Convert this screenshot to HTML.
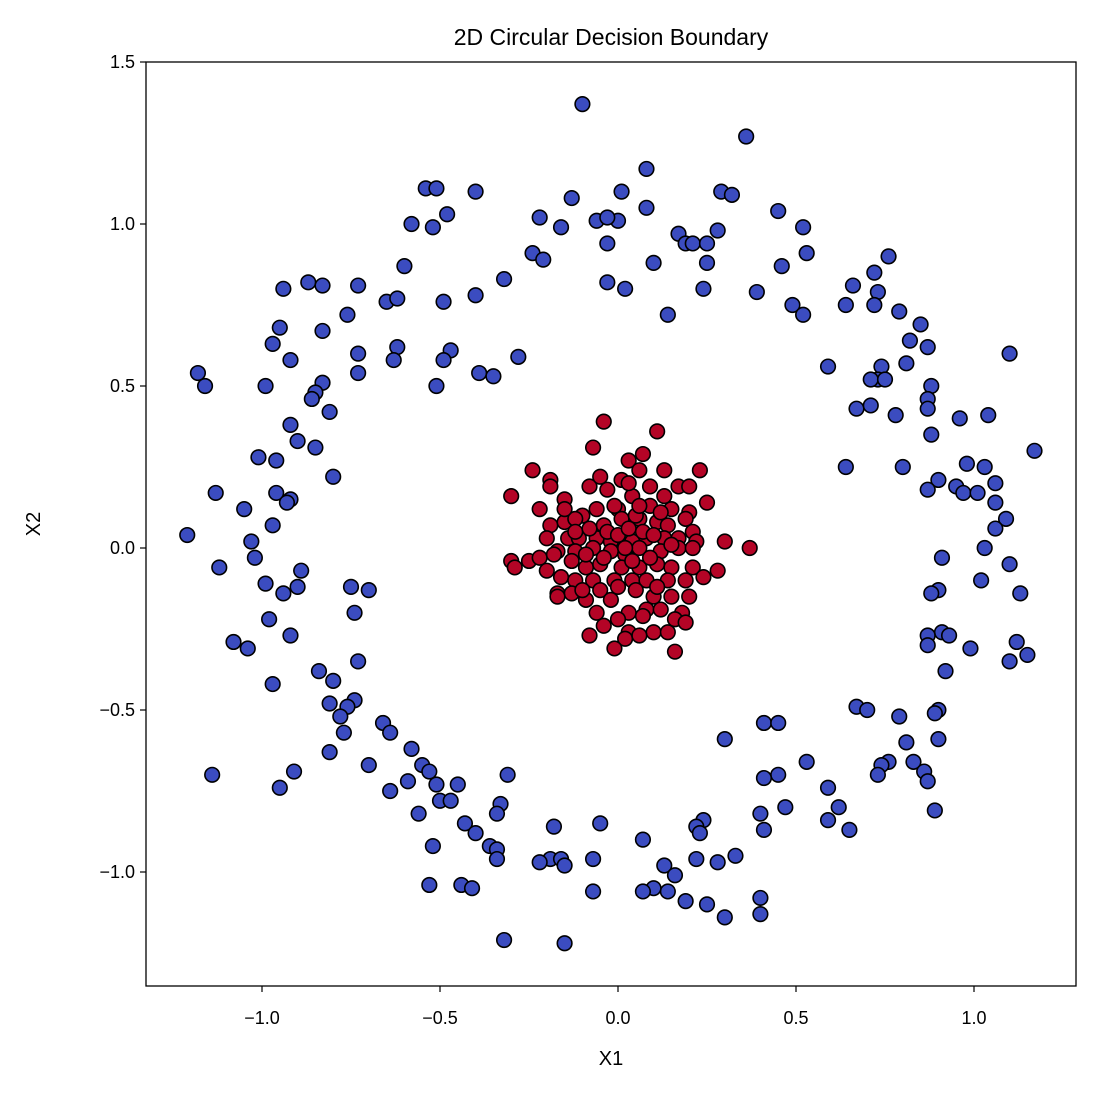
<!DOCTYPE html>
<html><head><meta charset="utf-8"><style>
body{margin:0;background:#fff;}
svg text{font-family:"Liberation Sans","DejaVu Sans",sans-serif;fill:#000;}
</style></head><body>
<svg id="chart" width="1095" height="1093" xmlns="http://www.w3.org/2000/svg">
<rect width="1095" height="1093" fill="#fff"/>
<text x="611" y="45" font-size="23" text-anchor="middle">2D Circular Decision Boundary</text>
<g id="marks"></g>
<rect x="146" y="62" width="930" height="924" fill="none" stroke="#000" stroke-width="1.3"/>
<g id="axes"></g>
<text x="611" y="1065" font-size="20" text-anchor="middle">X1</text>
<text x="40" y="524" font-size="20" text-anchor="middle" transform="rotate(-90 40 524)">X2</text>
</svg>
<script>
const xTicks=[-1.0,-0.5,0.0,0.5,1.0];
const yTicks=[-1.0,-0.5,0.0,0.5,1.0,1.5];
const blueX=[-0.10,0.36,0.08,-0.54,-0.51,-0.40,0.01,0.29,0.32,-0.13,0.08,0.45,-0.48,-0.22,-0.06,0.00,-0.03,-0.58,-0.52,-0.16,0.52,0.28,0.17,0.19,0.21,0.25,-0.03,-0.24,0.53,-0.21,0.25,0.10,0.46,-0.60,-0.32,0.76,0.72,0.66,0.73,-0.87,-0.83,-0.73,-0.94,-0.03,0.02,0.24,0.39,-0.40,-0.65,-0.62,-0.49,0.49,0.52,0.64,0.72,0.79,-0.76,0.14,-0.83,-0.95,0.85,0.82,0.87,-0.97,-0.62,-0.63,-0.73,-0.47,-0.49,-0.28,-0.92,1.10,0.59,0.81,0.74,0.73,0.71,0.75,-1.18,-1.16,-0.99,-0.39,-0.35,-0.73,-0.51,-0.83,-0.85,-0.86,0.88,0.87,0.87,0.67,0.71,0.78,1.04,0.96,-0.81,-0.92,0.88,-0.90,-0.85,-1.01,-0.96,1.17,0.98,0.64,0.80,1.03,0.90,1.06,-0.80,0.95,0.97,1.01,0.87,-1.13,-0.96,-0.92,-0.93,1.06,-1.05,1.09,-0.97,1.06,-1.21,-1.03,1.03,-1.02,0.91,1.10,-1.12,-0.89,1.02,1.13,-0.99,-0.75,-0.70,-0.90,-0.94,0.90,0.88,-0.74,-0.98,0.91,0.93,-0.92,-1.08,1.12,0.87,0.87,0.99,-1.04,1.15,1.10,-0.73,0.92,-0.84,-0.80,-0.97,-0.74,-0.81,-0.76,0.67,0.70,0.90,0.89,-0.78,0.79,-0.66,0.41,0.45,-0.77,-0.64,0.30,0.90,0.81,-0.81,-0.58,-0.70,0.53,-0.55,-0.53,0.83,0.76,0.74,0.73,0.86,-1.14,-0.91,-0.31,0.45,-0.95,0.41,-0.59,-0.51,-0.45,0.87,0.59,-0.64,-0.50,-0.47,-0.33,0.47,0.62,0.89,-0.56,-0.34,0.40,0.59,-0.43,-0.05,0.24,0.22,-0.40,-0.18,0.41,0.65,0.23,0.07,-0.36,-0.34,-0.52,-0.34,0.33,-0.19,-0.16,-0.15,-0.07,0.22,-0.22,0.28,0.13,0.16,-0.53,-0.44,0.10,0.07,0.14,-0.41,-0.07,0.40,0.19,0.25,0.40,0.30,-0.32,-0.15];
const blueY=[1.37,1.27,1.17,1.11,1.11,1.10,1.10,1.10,1.09,1.08,1.05,1.04,1.03,1.02,1.01,1.01,1.02,1.00,0.99,0.99,0.99,0.98,0.97,0.94,0.94,0.94,0.94,0.91,0.91,0.89,0.88,0.88,0.87,0.87,0.83,0.90,0.85,0.81,0.79,0.82,0.81,0.81,0.80,0.82,0.80,0.80,0.79,0.78,0.76,0.77,0.76,0.75,0.72,0.75,0.75,0.73,0.72,0.72,0.67,0.68,0.69,0.64,0.62,0.63,0.62,0.58,0.60,0.61,0.58,0.59,0.58,0.60,0.56,0.57,0.56,0.52,0.52,0.52,0.54,0.50,0.50,0.54,0.53,0.54,0.50,0.51,0.48,0.46,0.50,0.46,0.43,0.43,0.44,0.41,0.41,0.40,0.42,0.38,0.35,0.33,0.31,0.28,0.27,0.30,0.26,0.25,0.25,0.25,0.21,0.20,0.22,0.19,0.17,0.17,0.18,0.17,0.17,0.15,0.14,0.14,0.12,0.09,0.07,0.06,0.04,0.02,0.00,-0.03,-0.03,-0.05,-0.06,-0.07,-0.10,-0.14,-0.11,-0.12,-0.13,-0.12,-0.14,-0.13,-0.14,-0.20,-0.22,-0.26,-0.27,-0.27,-0.29,-0.29,-0.27,-0.30,-0.31,-0.31,-0.33,-0.35,-0.35,-0.38,-0.38,-0.41,-0.42,-0.47,-0.48,-0.49,-0.49,-0.50,-0.50,-0.51,-0.52,-0.52,-0.54,-0.54,-0.54,-0.57,-0.57,-0.59,-0.59,-0.60,-0.63,-0.62,-0.67,-0.66,-0.67,-0.69,-0.66,-0.66,-0.67,-0.70,-0.69,-0.70,-0.69,-0.70,-0.70,-0.74,-0.71,-0.72,-0.73,-0.73,-0.72,-0.74,-0.75,-0.78,-0.78,-0.79,-0.80,-0.80,-0.81,-0.82,-0.82,-0.82,-0.84,-0.85,-0.85,-0.84,-0.86,-0.88,-0.86,-0.87,-0.87,-0.88,-0.90,-0.92,-0.93,-0.92,-0.96,-0.95,-0.96,-0.96,-0.98,-0.96,-0.96,-0.97,-0.97,-0.98,-1.01,-1.04,-1.04,-1.05,-1.06,-1.06,-1.05,-1.06,-1.08,-1.09,-1.10,-1.13,-1.14,-1.21,-1.22];
const redX=[-0.04,0.11,-0.07,0.07,0.03,-0.24,0.13,0.23,0.06,-0.19,-0.19,0.01,0.09,-0.08,-0.03,0.17,0.20,-0.30,0.04,-0.15,0.25,-0.22,-0.10,-0.06,0.00,0.15,0.20,0.06,-0.19,-0.15,-0.12,-0.04,0.01,0.11,0.14,0.19,0.21,-0.20,-0.14,-0.11,-0.06,-0.02,0.04,0.08,0.13,0.17,0.30,0.37,0.22,-0.17,-0.12,-0.07,-0.02,0.02,0.06,0.12,0.17,0.21,-0.30,-0.29,-0.25,-0.22,-0.09,-0.05,0.01,0.06,0.11,0.15,0.21,-0.20,-0.16,0.28,0.24,-0.12,-0.07,-0.01,0.04,0.08,0.14,0.19,-0.17,-0.13,-0.05,0.05,0.10,0.15,-0.09,-0.17,-0.02,0.20,0.03,0.08,0.12,0.18,0.16,0.19,-0.04,0.03,0.10,0.14,-0.08,0.02,0.06,-0.01,0.16,-0.12,-0.08,-0.03,0.00,0.03,0.07,0.10,0.05,-0.01,0.09,-0.13,-0.04,0.04,0.09,-0.10,0.00,0.11,-0.06,0.00,0.07,-0.15,0.13,-0.05,0.03,0.15,-0.18,0.06,-0.09,0.02,0.12];
const redY=[0.39,0.36,0.31,0.29,0.27,0.24,0.24,0.24,0.24,0.21,0.19,0.21,0.19,0.19,0.18,0.19,0.19,0.16,0.16,0.15,0.14,0.12,0.10,0.12,0.12,0.12,0.11,0.09,0.07,0.08,0.09,0.07,0.09,0.08,0.07,0.09,0.05,0.03,0.03,0.03,0.03,0.02,0.02,0.03,0.03,0.03,0.02,0.00,0.02,-0.01,-0.01,0.00,-0.01,-0.02,0.00,-0.01,0.00,0.00,-0.04,-0.06,-0.04,-0.03,-0.06,-0.05,-0.06,-0.06,-0.05,-0.06,-0.06,-0.07,-0.09,-0.07,-0.09,-0.10,-0.10,-0.10,-0.10,-0.10,-0.10,-0.10,-0.14,-0.14,-0.13,-0.13,-0.15,-0.15,-0.16,-0.15,-0.16,-0.15,-0.20,-0.19,-0.19,-0.20,-0.22,-0.23,-0.24,-0.26,-0.26,-0.26,-0.27,-0.28,-0.27,-0.31,-0.32,0.05,0.06,0.05,0.04,0.06,0.05,0.04,0.10,0.13,0.13,-0.04,-0.03,-0.04,-0.03,-0.13,-0.12,-0.12,-0.20,-0.22,-0.21,0.12,0.16,0.22,0.20,0.01,-0.02,0.13,-0.02,0.00,0.11];

const NS='http://www.w3.org/2000/svg';
const X0=146,X1=1076,Y0=62,Y1=986;
function sx(v){return 618+v*356;}
function sy(v){return 548-v*324;}
function fmt(v){return (v<0?'\u2212':'')+Math.abs(v).toFixed(1);}
const marks=document.getElementById('marks');
function draw(xs,ys,fill,name){
  for(let i=0;i<xs.length;i++){
    const c=document.createElementNS(NS,'circle');
    c.setAttribute('cx',sx(xs[i]));c.setAttribute('cy',sy(ys[i]));c.setAttribute('r',7.3);
    c.setAttribute('fill',fill);c.setAttribute('stroke','#000');c.setAttribute('stroke-width',1.6);
    
    
    marks.appendChild(c);
  }
}
draw(blueX,blueY,'#3b4cc0','point-class-0');
draw(redX,redY,'#b40426','point-class-1');
const axes=document.getElementById('axes');
xTicks.forEach(v=>{
  const l=document.createElementNS(NS,'line');
  l.setAttribute('x1',sx(v));l.setAttribute('x2',sx(v));l.setAttribute('y1',Y1);l.setAttribute('y2',Y1+6);
  l.setAttribute('stroke','#000');l.setAttribute('stroke-width',1.2);
  
  
  axes.appendChild(l);
  const t=document.createElementNS(NS,'text');
  t.setAttribute('x',sx(v));t.setAttribute('y',1024);t.setAttribute('font-size',18);t.setAttribute('text-anchor','middle');
  t.textContent=fmt(v);
  
  
  axes.appendChild(t);
});
yTicks.forEach(v=>{
  const l=document.createElementNS(NS,'line');
  l.setAttribute('x1',X0-6);l.setAttribute('x2',X0);l.setAttribute('y1',sy(v));l.setAttribute('y2',sy(v));
  l.setAttribute('stroke','#000');l.setAttribute('stroke-width',1.2);
  
  
  axes.appendChild(l);
  const t=document.createElementNS(NS,'text');
  t.setAttribute('x',X0-11);t.setAttribute('y',sy(v)+6);t.setAttribute('font-size',18);t.setAttribute('text-anchor','end');
  t.textContent=fmt(v);
  
  
  axes.appendChild(t);
});
</script>
</body></html>
